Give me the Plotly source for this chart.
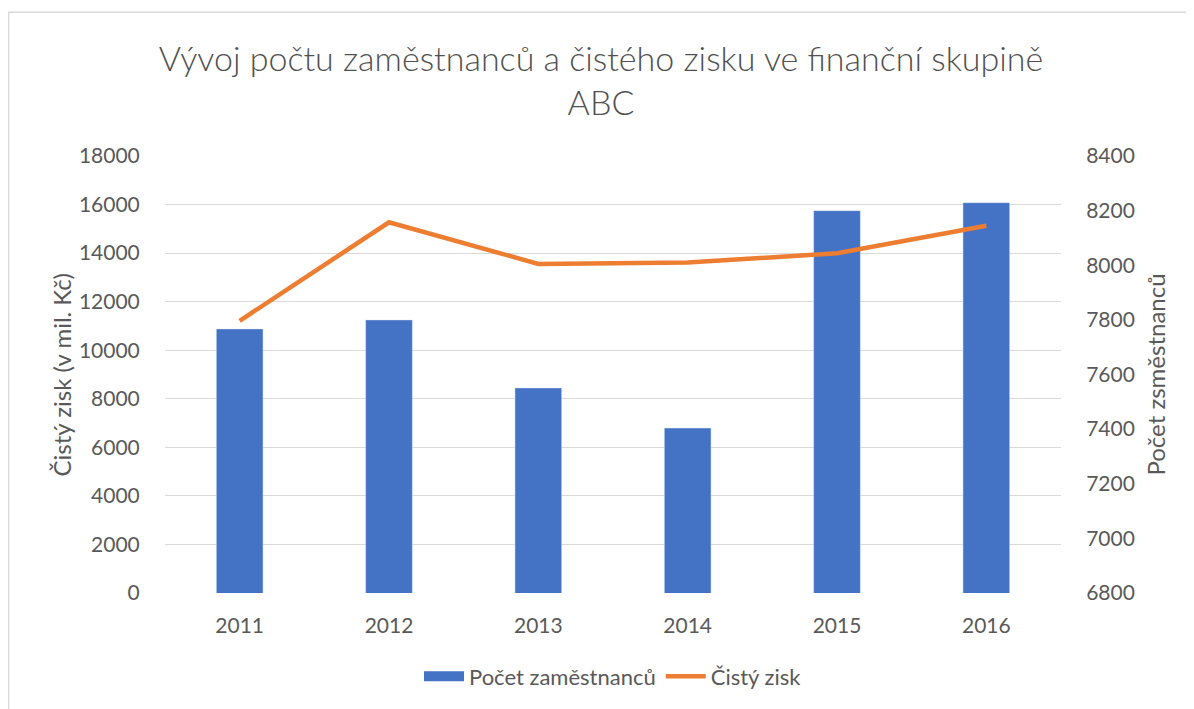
import plotly.graph_objects as go

years = ['2011', '2012', '2013', '2014', '2015', '2016']
zamestnanci = [7767, 7800, 7551, 7404, 8200, 8229]
cisty_zisk = [11210, 15270, 13555, 13610, 13995, 15130]

left_ticks = list(range(0, 18001, 2000))
right_ticks = list(range(6800, 8401, 200))

blue = '#4472C4'
orange = '#ED7D31'
grey_txt = '#595959'
font_name = 'Lato, Open Sans, sans-serif'

fig = go.Figure()

# bars on the base axis (right side, počet zaměstnanců) so the line sits on top
fig.add_trace(go.Bar(x=years, y=zamestnanci, yaxis='y', marker_color=blue,
                     name='Počet zaměstnanců', showlegend=False))
# legend-only entry so the blue swatch looks like the wide Excel block
fig.add_trace(go.Scatter(x=[None], y=[None], mode='lines',
                         line=dict(color=blue, width=14),
                         name='Počet zaměstnanců'))
# line on the overlaying left axis (čistý zisk)
fig.add_trace(go.Scatter(x=years, y=cisty_zisk, mode='lines', yaxis='y2',
                         line=dict(color=orange, width=4.5),
                         name='Čistý zisk'))

# page body has an 8px margin, so the figure is 8px smaller each way
fig.update_layout(
    width=1186, height=701,
    margin=dict(l=157, r=133, t=148, b=116, autoexpand=False),
    paper_bgcolor='white', plot_bgcolor='white',
    font=dict(family=font_name, color=grey_txt, size=20),
    title=dict(text='Vývoj počtu zaměstnanců a čistého zisku ve finanční skupině<br>ABC',
               x=0.5, xanchor='center', y=0.91, yanchor='middle',
               font=dict(size=34, color='#505050', family=font_name, weight=300)),
    bargap=0.687,
    xaxis=dict(type='category', showgrid=False, showline=False, ticks='outside',
               ticklen=0, ticklabelstandoff=14, tickfont=dict(size=21),
               automargin=False),
    yaxis=dict(range=[6800, 8400], tickvals=right_ticks, tickformat='d',
               side='right', showgrid=False, zeroline=False,
               ticks='outside', ticklen=0, ticklabelstandoff=20,
               tickfont=dict(size=21), automargin=False),
    yaxis2=dict(range=[0, 18000], tickvals=left_ticks, tickformat='d',
                overlaying='y', side='left',
                showgrid=True, gridcolor='#d9d9d9', gridwidth=1.3,
                zeroline=False, ticks='outside', ticklen=0,
                ticklabelstandoff=20, tickfont=dict(size=21), automargin=False),
    legend=dict(orientation='h', x=0.5, xanchor='center', y=-0.191,
                yanchor='middle', font=dict(size=22), traceorder='normal',
                itemwidth=40),
    showlegend=True,
)

# axis titles
fig.add_annotation(text='Čistý zisk (v mil. Kč)', xref='paper', yref='paper',
                   x=-0.115, y=0.5, xanchor='center', yanchor='middle',
                   textangle=-90, showarrow=False,
                   font=dict(size=24, color=grey_txt))
fig.add_annotation(text='Počet zsměstnanců', xref='paper', yref='paper',
                   x=1.105, y=0.5, xanchor='center', yanchor='middle',
                   textangle=-90, showarrow=False,
                   font=dict(size=24, color=grey_txt))

# chart border
fig.add_shape(type='rect', xref='paper', yref='paper', x0=-0.1745, x1=1.25,
              y0=-0.35, y1=1.329, line=dict(color='#d9d9d9', width=1.3),
              layer='below')

fig.write_html('out.html')
